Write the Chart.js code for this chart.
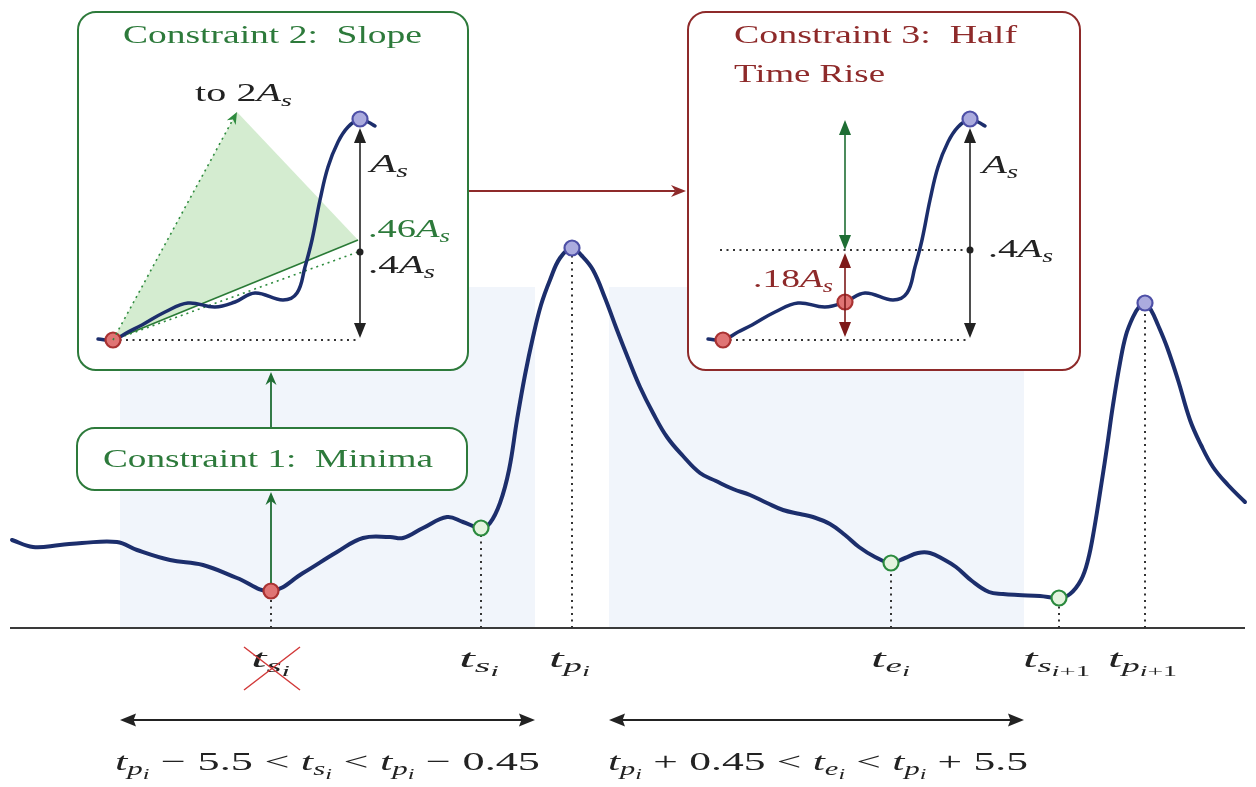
<!DOCTYPE html>
<html lang="en">
<head>
<meta charset="UTF-8" />
<title>Peak constraints</title>
<style>
  body { margin: 0; background: #fff; }
  #wrap { width: 1256px; height: 787px; position: relative; }
</style>
<script src="https://cdn.jsdelivr.net/npm/chart.js"></script>
</head>
<body>
<div id="wrap"><canvas id="c"></canvas></div>
<script>
// main signal: x = time position, h = height above the axis
const curveX = [12, 33, 60, 82, 117, 137, 170, 203, 237, 271, 303, 337, 363, 390, 403, 423, 447, 463, 481,
  490, 500, 509, 517, 525, 533, 541, 550, 560, 572, 582, 593, 605, 617, 628, 640, 653, 667, 683, 700,
  716, 733, 750, 767, 783, 800, 813, 830, 845, 859, 875, 891, 905, 918, 930, 943, 956, 972, 989, 1003,
  1018, 1040, 1059, 1070, 1081, 1088, 1094, 1102, 1107, 1113, 1120, 1126, 1133, 1139, 1145, 1151, 1158, 1167, 1178, 1190,
  1201, 1213, 1228, 1245];
const curveH = [88, 81, 83, 85, 86, 78, 68, 63, 50, 37, 55, 76, 90, 91, 90, 100, 111, 106, 100,
  105, 125, 158, 208, 253, 291, 323, 348, 370, 380, 372, 358, 330, 298, 270, 241, 215, 191, 172, 155,
  147, 139, 133, 125, 118, 114, 111, 104, 93, 81, 71, 65, 70, 75, 75, 69, 61, 47, 36, 34,
  33, 32, 30, 34, 48, 68, 98, 148, 181, 223, 265, 293, 311, 321, 325, 318, 303, 281, 248, 208,
  183, 161, 143, 126];

// detected points
const minimaX = [271], minimaH = [37];
const onsetX = [481, 891, 1059], onsetH = [100, 65, 30];
const peakX = [572, 1145], peakH = [380, 325];
const eventX = [271, 481, 572, 891, 1059, 1145];
const eventH = [37, 100, 380, 65, 30, 325];
const eventLabels = ['t_{s_{i}}', 't_{s_{i}}', 't_{p_{i}}', 't_{e_{i}}', 't_{s_{i+1}}', 't_{p_{i+1}}'];

// search windows around the peak
const windowStart = [120, 609];
const windowEnd = [535, 1024];
const windowTop = 341;
const windowLabels = ['t_{p_{i}} − 5.5 < t_{s_{i}} < t_{p_{i}} − 0.45', 't_{p_{i}} + 0.45 < t_{e_{i}} < t_{p_{i}} + 5.5'];

// small rise sketched inside the constraint boxes
const insetX = [98, 113, 128, 142, 165, 188, 215, 235, 255, 283, 297, 305, 312, 320, 328, 338, 348, 360, 368, 375];
const insetH = [289, 288, 296, 303, 316, 325, 321, 326, 335, 328, 335, 361, 388, 428, 461, 486, 501, 509, 506, 502];
const insetShift = 610;
const insetMinX = 113, insetMinH = 288;
const insetPeakX = 360, insetPeakH = 509;
const insetHalfX = 235, insetHalfH = 326;
const slopeTop = {x: 237, y: 516};
const slope46 = {x: 358, y: 388};
const slope40 = {x: 358, y: 376};
const level40 = 378;

const NAVY = '#1c2e6c', GREEN = '#2d7a3b', DARKRED = '#8e2a2a', INK = '#222';
const FONT = '"Liberation Serif", "DejaVu Serif", serif';
const DOTS = {borderColor: '#333', borderWidth: 2, borderDash: [2, 4.5], pointRadius: 0};

const pts = (xs, hs) => xs.map((x, i) => ({x, y: hs[i]}));
const seg = (a, b) => [a, b];

function parseTex(s, lvl, out, roman) {
  let i = 0;
  while (i < s.length) {
    const c = s[i];
    if (c === '[') { roman = true; i++; continue; }
    if (c === ']') { roman = false; i++; continue; }
    if (c === '_') {
      i++;
      let inner;
      if (s[i] === '{') {
        let d = 1, j = i + 1;
        while (d) { if (s[j] === '{') d++; else if (s[j] === '}') d--; j++; }
        inner = s.slice(i + 1, j - 1); i = j;
      } else { inner = s[i]; i++; }
      parseTex(inner, lvl + 1, out, roman);
      continue;
    }
    out.push({c, lvl, it: !roman && /[a-zA-Z]/.test(c)});
    i++;
  }
  return out;
}
const LVL_SCALE = [1, 0.7, 0.55], LVL_DROP = [0, 0.2, 0.34];
function drawTex(ctx, s, x1, x2, y, size, color) {
  const gl = parseTex(s, 0, [], false);
  let w = 0;
  gl.forEach(g => {
    const fs = size * LVL_SCALE[g.lvl];
    g.font = (g.it ? 'italic ' : '') + fs + 'px ' + FONT;
    ctx.font = g.font;
    g.x = w; g.dy = size * LVL_DROP[g.lvl];
    g.w = g.c === ' ' ? fs * 0.26 : ctx.measureText(g.c).width;
    w += g.w;
  });
  ctx.save();
  ctx.translate(x1, y);
  ctx.scale((x2 - x1) / w, 1);
  ctx.fillStyle = color;
  ctx.textBaseline = 'alphabetic';
  gl.forEach(g => { if (g.c !== ' ') { ctx.font = g.font; ctx.fillText(g.c, g.x, g.dy); } });
  ctx.restore();
}
function drawText(ctx, s, x1, x2, y, size, color) {
  ctx.save();
  ctx.font = size + 'px ' + FONT;
  const w = ctx.measureText(s).width;
  ctx.translate(x1, y);
  ctx.scale((x2 - x1) / w, 1);
  ctx.fillStyle = color;
  ctx.fillText(s, 0, 0);
  ctx.restore();
}
function head(ctx, tx, ty, fx, fy, len, half, notch) {
  const a = Math.atan2(ty - fy, tx - fx), c = Math.cos(a), s = Math.sin(a);
  ctx.beginPath();
  ctx.moveTo(tx, ty);
  ctx.lineTo(tx - len * c + half * s, ty - len * s - half * c);
  ctx.lineTo(tx - len * (1 - notch) * c, ty - len * (1 - notch) * s);
  ctx.lineTo(tx - len * c - half * s, ty - len * s + half * c);
  ctx.closePath();
  ctx.fill();
}
function arrow(ctx, x1, y1, x2, y2, o) {
  const len = o.len || 12, half = o.half || 5, notch = o.notch || 0;
  const L = Math.hypot(x2 - x1, y2 - y1), ux = (x2 - x1) / L, uy = (y2 - y1) / L;
  const back = len * 0.7;
  ctx.save();
  ctx.strokeStyle = o.color; ctx.fillStyle = o.color; ctx.lineWidth = o.width || 1.6;
  if (o.dash) ctx.setLineDash(o.dash);
  ctx.beginPath();
  ctx.moveTo(o.both ? x1 + ux * back : x1, o.both ? y1 + uy * back : y1);
  ctx.lineTo(x2 - ux * back, y2 - uy * back);
  ctx.stroke();
  ctx.setLineDash([]);
  head(ctx, x2, y2, x1, y1, len, half, notch);
  if (o.both) head(ctx, x1, y1, x2, y2, len, half, notch);
  ctx.restore();
}
function roundBox(ctx, x1, y1, x2, y2, r, stroke) {
  ctx.beginPath();
  ctx.moveTo(x1 + r, y1);
  ctx.arcTo(x2, y1, x2, y2, r); ctx.arcTo(x2, y2, x1, y2, r);
  ctx.arcTo(x1, y2, x1, y1, r); ctx.arcTo(x1, y1, x2, y1, r);
  ctx.closePath();
  ctx.fillStyle = '#fff'; ctx.fill();
  ctx.lineWidth = 2; ctx.strokeStyle = stroke; ctx.stroke();
}

const boxes = [
  {x1: 78, y1: 616, x2: 468, y2: 258, color: GREEN},
  {x1: 77, y1: 200, x2: 467, y2: 138, color: GREEN},
  {x1: 688, y1: 616, x2: 1080, y2: 258, color: DARKRED}
];

const sketch = {
  id: 'sketch',
  afterDatasetDraw(chart, args) {
    if (!chart.data.datasets[args.index].boxesAfter) return;
    const {ctx} = chart, X = v => chart.scales.x.getPixelForValue(v), Y = v => chart.scales.y.getPixelForValue(v);
    boxes.forEach(b => roundBox(ctx, X(b.x1), Y(b.y1), X(b.x2), Y(b.y2), 18, b.color));
  },
  afterDatasetsDraw(chart) {
    const {ctx} = chart, X = v => chart.scales.x.getPixelForValue(v), Y = v => chart.scales.y.getPixelForValue(v);
    const A = (x1, y1, x2, y2, o) => arrow(ctx, X(x1), Y(y1), X(x2), Y(y2), o);

    // titles
    drawText(ctx, 'Constraint 2:  Slope', X(123), X(422), Y(585), 25, GREEN);
    drawText(ctx, 'Constraint 1:  Minima', X(103), X(433), Y(161), 25, GREEN);
    drawText(ctx, 'Constraint 3:  Half', X(734), X(1017), Y(585), 25, DARKRED);
    drawText(ctx, 'Time Rise', X(734), X(885), Y(546), 25, DARKRED);

    // flow arrows
    const stealth = {len: 13, half: 5.5, notch: 0.3, width: 1.8};
    A(271, 45, 271, 136, {...stealth, color: '#1f6e34'});
    A(271, 201, 271, 256, {...stealth, color: '#1f6e34'});
    A(469, 437, 686, 437, {...stealth, len: 15, half: 6, color: DARKRED});

    // slope box
    const latex = {len: 15, half: 6, width: 1.6, both: true};
    A(insetMinX, insetMinH, slopeTop.x, slopeTop.y, {len: 12, half: 5, notch: 0.3, width: 1.6, dash: [2, 4], color: '#2e8b3e'});
    A(insetPeakX, 500, insetPeakX, 290, {...latex, color: INK});
    ctx.fillStyle = INK;
    ctx.beginPath(); ctx.arc(X(insetPeakX), Y(slope40.y), 3.5, 0, 7); ctx.fill();
    drawTex(ctx, '[to] [2]A_{s}', X(195), X(292), Y(527), 25, INK);
    drawTex(ctx, 'A_{s}', X(370), X(408), Y(456), 26, INK);
    drawTex(ctx, '.46A_{s}', X(368), X(450), Y(391), 26, GREEN);
    drawTex(ctx, '.4A_{s}', X(368), X(435), Y(355), 26, INK);

    // half time rise box
    const p = insetPeakX + insetShift, h = insetHalfX + insetShift;
    A(p, 500, p, 290, {...latex, color: INK});
    ctx.fillStyle = INK;
    ctx.beginPath(); ctx.arc(X(p), Y(level40), 3.5, 0, 7); ctx.fill();
    A(h, 378, h, 508, {...latex, color: '#1f6e34'});
    A(h, 291, h, 375, {...latex, color: '#7d1a1a'});
    drawTex(ctx, 'A_{s}', X(982), X(1018), Y(455), 26, INK);
    drawTex(ctx, '.4A_{s}', X(988), X(1053), Y(371), 26, INK);
    drawTex(ctx, '.18A_{s}', X(753), X(833), Y(341), 26, DARKRED);

    // axis labels
    const labelSpan = [[251, 290], [459, 499], [549, 590], [871, 910], [1023, 1090], [1108, 1177]];
    eventLabels.forEach((s, i) => drawTex(ctx, s, X(labelSpan[i][0]), X(labelSpan[i][1]), Y(-39), 26, INK));
    ctx.save();
    ctx.strokeStyle = '#d23a3a'; ctx.lineWidth = 1.5;
    ctx.beginPath();
    ctx.moveTo(X(244), Y(-19)); ctx.lineTo(X(300), Y(-62));
    ctx.moveTo(X(300), Y(-19)); ctx.lineTo(X(244), Y(-62));
    ctx.stroke();
    ctx.restore();

    // window ranges
    windowStart.forEach((s, i) => A(s, -92, windowEnd[i], -92, {len: 16, half: 6.5, notch: 0.15, width: 2, both: true, color: INK}));
    drawTex(ctx, windowLabels[0], X(115), X(540), Y(-142), 26, INK);
    drawTex(ctx, windowLabels[1], X(608), X(1028), Y(-142), 26, INK);
  }
};

const datasets = [];
windowStart.forEach((s, i) => datasets.push({
  data: seg({x: s, y: windowTop}, {x: windowEnd[i], y: windowTop}),
  fill: 'origin', backgroundColor: '#f1f5fb', borderColor: 'transparent', borderWidth: 0,
  pointRadius: 0, order: 101 - i, boxesAfter: i === windowStart.length - 1
}));
datasets.push({data: seg({x: 10, y: 0}, {x: 1245, y: 0}), borderColor: '#3a3a3a', borderWidth: 2, pointRadius: 0, order: 90});
eventX.forEach((x, i) => datasets.push({...DOTS, data: seg({x, y: 0}, {x, y: eventH[i]}), order: 80}));
// slope fan
datasets.push({
  data: [{x: insetMinX, y: insetMinH}, slopeTop, slope46, {x: insetMinX, y: insetMinH}],
  fill: 'shape', backgroundColor: 'rgba(120, 195, 110, 0.32)', borderColor: 'transparent', borderWidth: 0,
  pointRadius: 0, tension: 0, order: 75
});
datasets.push({data: seg({x: insetMinX, y: insetMinH}, slope40), borderColor: '#2e8b3e', borderWidth: 1.6, borderDash: [2, 4], pointRadius: 0, order: 70});
datasets.push({data: seg({x: insetMinX, y: insetMinH}, slope46), borderColor: '#2a7a36', borderWidth: 1.6, pointRadius: 0, order: 70});
datasets.push({...DOTS, data: seg({x: insetMinX, y: insetMinH}, {x: insetPeakX - 2, y: insetMinH}), order: 70});
datasets.push({...DOTS, data: seg({x: insetMinX + insetShift, y: insetMinH}, {x: insetPeakX + insetShift, y: insetMinH}), order: 70});
datasets.push({...DOTS, data: seg({x: 720, y: level40}, {x: insetPeakX + insetShift, y: level40}), order: 70});
// curves
const curveStyle = {borderColor: NAVY, pointRadius: 0, tension: 0.4, borderCapStyle: 'round', borderJoinStyle: 'round', fill: false, order: 50};
datasets.push({...curveStyle, data: pts(curveX, curveH), borderWidth: 4});
datasets.push({...curveStyle, data: pts(insetX, insetH), borderWidth: 3.5});
datasets.push({...curveStyle, data: pts(insetX.map(x => x + insetShift), insetH), borderWidth: 3.5});
// markers
const mark = (data, fill, stroke) => ({data, showLine: false, pointRadius: 7.5, pointBackgroundColor: fill, pointBorderColor: stroke, pointBorderWidth: 2.2, order: 10});
datasets.push(mark(pts(minimaX, minimaH).concat([{x: insetMinX, y: insetMinH}, {x: insetMinX + insetShift, y: insetMinH}, {x: insetHalfX + insetShift, y: insetHalfH}]), '#e07474', '#a93232'));
datasets.push(mark(pts(onsetX, onsetH), '#e4f3de', '#2b8a3e'));
datasets.push(mark(pts(peakX, peakH).concat([{x: insetPeakX, y: insetPeakH}, {x: insetPeakX + insetShift, y: insetPeakH}]), '#ababde', '#4d4fa6'));

new Chart(document.getElementById('c'), {
  type: 'line',
  data: {datasets},
  options: {
    responsive: true,
    maintainAspectRatio: false,
    animation: false,
    events: [],
    layout: {padding: 0, autoPadding: false},
    plugins: {legend: {display: false}, tooltip: {enabled: false}},
    scales: {
      x: {type: 'linear', min: 0, max: 1256, display: false},
      y: {min: -159, max: 628, display: false}
    }
  },
  plugins: [sketch]
});
</script>
</body>
</html>
